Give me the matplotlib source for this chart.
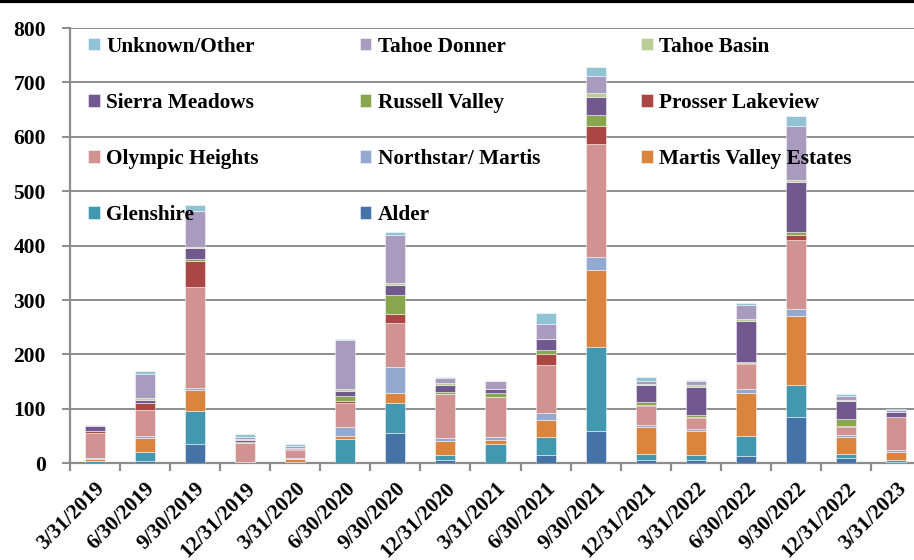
import numpy as np
import matplotlib
matplotlib.use('Agg')
import matplotlib.pyplot as plt
from matplotlib.lines import Line2D

quarters = ['3/31/2019', '6/30/2019', '9/30/2019', '12/31/2019', '3/31/2020',
            '6/30/2020', '9/30/2020', '12/31/2020', '3/31/2021', '6/30/2021',
            '9/30/2021', '12/31/2021', '3/31/2022', '6/30/2022', '9/30/2022',
            '12/31/2022', '3/31/2023']

# stacked bottom -> top
alder          = [1, 5, 36, 0, 1, 0, 55, 6, 1, 16, 60, 6, 6, 13, 86, 9, 3]
glenshire      = [3, 15, 60, 0, 1, 45, 56, 9, 35, 32, 154, 11, 9, 37, 58, 9, 3]
martis_valley  = [4, 26, 38, 0, 6, 6, 18, 26, 7, 31, 142, 50, 44, 80, 126, 31, 15]
northstar      = [2, 5, 5, 2, 2, 15, 48, 6, 6, 13, 23, 4, 4, 7, 14, 3, 3]
olympic        = [46, 47, 185, 35, 15, 45, 80, 80, 73, 88, 208, 34, 21, 45, 127, 15, 62]
prosser        = [3, 12, 47, 0, 1, 4, 18, 1, 0, 20, 32, 2, 2, 2, 8, 1, 0]
russell        = [1, 0, 5, 2, 0, 9, 35, 3, 7, 9, 21, 5, 2, 2, 7, 13, 0]
sierra         = [9, 6, 19, 4, 2, 9, 18, 13, 7, 19, 34, 32, 52, 75, 91, 34, 8]
tahoe_basin    = [0, 4, 2, 1, 0, 3, 4, 4, 0, 1, 6, 1, 3, 4, 3, 2, 0]
tahoe_donner   = [2, 45, 67, 5, 4, 91, 87, 9, 15, 27, 32, 7, 9, 26, 99, 7, 4]
unknown        = [0, 4, 10, 5, 3, 2, 7, 2, 0, 20, 17, 6, 2, 3, 20, 4, 2]

series = [
    ('Alder', alder, '#4572A7'),
    ('Glenshire', glenshire, '#4198AF'),
    ('Martis Valley Estates', martis_valley, '#DB843D'),
    ('Northstar/ Martis', northstar, '#93A9CF'),
    ('Olympic Heights', olympic, '#D19392'),
    ('Prosser Lakeview', prosser, '#AA4643'),
    ('Russell Valley', russell, '#89A54E'),
    ('Sierra Meadows', sierra, '#71588F'),
    ('Tahoe Basin', tahoe_basin, '#B9CD96'),
    ('Tahoe Donner', tahoe_donner, '#A99BBD'),
    ('Unknown/Other', unknown, '#92C3D4'),
]

plt.rcParams['font.family'] = 'Liberation Serif'
plt.rcParams['font.weight'] = 'bold'

fig = plt.figure(figsize=(9.14, 5.6), dpi=100)
ax = fig.add_axes([69.5 / 914, 1 - 463.3 / 560, 852 / 914, (463.3 - 28) / 560])

x = np.arange(len(quarters))
bottom = np.zeros(len(quarters))
handles = {}
for name, vals, color in series:
    v = np.array(vals, dtype=float)
    b = ax.bar(x, v, width=0.4, bottom=bottom, color=color,
               edgecolor=(1, 1, 1, 0.55), linewidth=0.6, zorder=3, label=name)
    handles[name] = b
    bottom += v

ax.set_xlim(-0.5, len(quarters) - 0.5)
ax.set_ylim(0, 800)
ax.set_yticks(np.arange(0, 801, 100))
ax.yaxis.grid(True, color='#8c8c8c', linewidth=1.4, zorder=0)
ax.set_axisbelow(True)

for s in ['top', 'right']:
    ax.spines[s].set_visible(False)
for s in ['left', 'bottom']:
    ax.spines[s].set_color('#8c8c8c')
    ax.spines[s].set_linewidth(1.6)

ax.set_xticks(x)
ax.set_xticklabels(quarters, rotation=45, ha='right', rotation_mode='anchor',
                   fontsize=15.3, fontweight='bold')
ax.set_xticks(np.arange(-0.5, len(quarters), 1), minor=True)
ax.tick_params(axis='x', which='major', length=0, pad=11)
ax.tick_params(axis='x', which='minor', length=6, width=1.6, color='#8c8c8c')
ax.tick_params(axis='y', length=6, width=1.4, color='#8c8c8c', labelsize=15.5, pad=11)
for t in ax.get_yticklabels():
    t.set_fontweight('bold')

# legend laid out row-wise like the original (matplotlib fills column-wise)
order = ['Unknown/Other', 'Sierra Meadows', 'Olympic Heights', 'Glenshire',
         'Tahoe Donner', 'Russell Valley', 'Northstar/ Martis', 'Alder',
         'Tahoe Basin', 'Prosser Lakeview', 'Martis Valley Estates']
leg = ax.legend([handles[n] for n in order], order, ncol=3, loc='upper left',
                bbox_to_anchor=(0.012, 1.0), frameon=False,
                prop={'family': 'Liberation Serif', 'weight': 'bold', 'size': 15.3},
                handlelength=0.55, handleheight=0.55, handletextpad=0.3,
                labelspacing=1.7, columnspacing=4.75, borderaxespad=0)

fig.add_artist(Line2D([0, 1], [0.998, 0.998], transform=fig.transFigure,
                      color='black', linewidth=3))

fig.savefig('out.png', dpi=100)
